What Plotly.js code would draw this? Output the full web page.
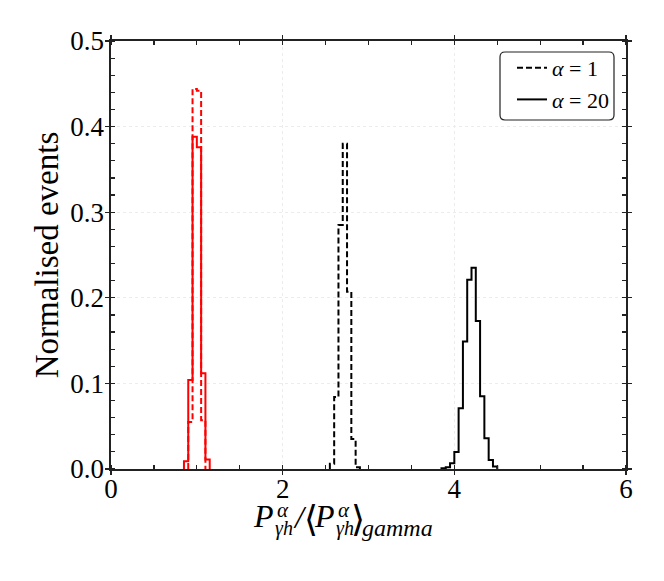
<!DOCTYPE html>
<html>
<head>
<meta charset="utf-8">
<script src="https://cdn.plot.ly/plotly-3.0.1.min.js"></script>
<style>html,body{margin:0;padding:0;background:#fff;}#chart{width:664px;height:581px;}</style>
</head>
<body>
<div id="chart"></div>
<script>
// ---- data ----
const gammaEdges20 = [0.85, 0.90, 0.95, 1.00, 1.05, 1.10, 1.15];
const gammaVals20  = [0.009, 0.104, 0.388, 0.376, 0.112, 0.011];
const gammaEdges1  = [0.90, 0.95, 1.00, 1.05, 1.10];
const gammaVals1   = [0.055, 0.444, 0.442, 0.057];
const alpha1Edges  = [2.55, 2.60, 2.65, 2.70, 2.75, 2.80, 2.85, 2.90];
const alpha1Vals   = [0.006, 0.084, 0.285, 0.380, 0.207, 0.035, 0.002];
const alpha20Edges = [3.85, 3.90, 3.95, 4.00, 4.05, 4.10, 4.15, 4.20, 4.25, 4.30, 4.35, 4.40, 4.45, 4.50];
const alpha20Vals  = [0.001, 0.002, 0.0066, 0.020, 0.071, 0.149, 0.221, 0.235, 0.173, 0.085, 0.036, 0.0106, 0.003];
const legendNames  = ['<i>α</i> = 1', '<i>α</i> = 20'];
const xTickVals    = [0, 2, 4, 6];

// step outline for a histogram
function stepXY(edges, vals) {
  const x = [edges[0]], y = [0];
  for (let i = 0; i < vals.length; i++) { x.push(edges[i]); y.push(vals[i]); }
  x.push(edges[edges.length - 1]); y.push(0);
  return {x, y};
}
function stepTrace(edges, vals, color, dash, name, show) {
  const s = stepXY(edges, vals);
  return {
    type: 'scatter', mode: 'lines', x: s.x, y: s.y,
    line: {shape: 'hv', color: color, width: 2, dash: dash},
    name: name || '', showlegend: !!show, hoverinfo: 'skip'
  };
}

const DASH = '6px,3px';
const traces = [
  stepTrace(alpha1Edges, alpha1Vals, '#000000', DASH, legendNames[0], true),
  stepTrace(alpha20Edges, alpha20Vals, '#000000', 'solid', legendNames[1], true),
  stepTrace(gammaEdges1, gammaVals1, '#ff0000', DASH, '', false),
  stepTrace(gammaEdges20, gammaVals20, '#ff0000', 'solid', '', false)
];

// plot-area pixel geometry (for placing the stacked-script x title)
const PL = 111, PR = 626, PT = 41, PB = 469;
const px2x = px => (px - PL) / (PR - PL);
const px2y = py => (PB - py) / (PB - PT);
const SERIF = 'Liberation Serif, DejaVu Serif, serif';
function piece(text, px, py, size) {
  return {
    xref: 'paper', yref: 'paper', x: px2x(px), y: px2y(py),
    xanchor: 'left', yanchor: 'middle', showarrow: false,
    text: text, borderpad: 0,
    font: {family: SERIF, size: size, color: '#000'}
  };
}
const titleAnn = [
  piece('<i>P</i>', 252, 516, 32),
  piece('<i>α</i>', 276, 510, 21),
  piece('<i>γh</i>', 274, 528, 20),
  piece('<i>/</i>', 292, 517, 32),
  piece('⟨', 303, 519, 36),
  piece('<i>P</i>', 313, 516, 32),
  piece('<i>α</i>', 337, 510, 21),
  piece('<i>γh</i>', 335, 528, 20),
  piece('⟩', 350, 519, 36),
  piece('<i>gamma</i>', 361, 528, 24)
];

// rounded legend frame (paper coords)
function roundRect(x0p, y0p, x1p, y1p, r) {
  const X = px2x, Y = px2y;
  return 'M' + X(x0p + r) + ',' + Y(y0p) +
    ' L' + X(x1p - r) + ',' + Y(y0p) +
    ' Q' + X(x1p) + ',' + Y(y0p) + ' ' + X(x1p) + ',' + Y(y0p + r) +
    ' L' + X(x1p) + ',' + Y(y1p - r) +
    ' Q' + X(x1p) + ',' + Y(y1p) + ' ' + X(x1p - r) + ',' + Y(y1p) +
    ' L' + X(x0p + r) + ',' + Y(y1p) +
    ' Q' + X(x0p) + ',' + Y(y1p) + ' ' + X(x0p) + ',' + Y(y1p - r) +
    ' L' + X(x0p) + ',' + Y(y0p + r) +
    ' Q' + X(x0p) + ',' + Y(y0p) + ' ' + X(x0p + r) + ',' + Y(y0p) + ' Z';
}

const axisCommon = {
  showline: true, linecolor: '#222', linewidth: 1.6, mirror: 'allticks',
  ticks: 'outside', ticklen: 4, tickwidth: 1.4, tickcolor: '#222',
  showgrid: true, gridcolor: '#ececec', griddash: 'dot', gridwidth: 1,
  zeroline: false,
  tickfont: {family: SERIF, size: 27, color: '#000'}
};

const layout = {
  width: 664, height: 581,
  margin: {l: PL, r: 664 - PR, t: PT, b: 581 - PB},
  paper_bgcolor: '#fff', plot_bgcolor: '#fff',
  showlegend: true,
  xaxis: Object.assign({}, axisCommon, {
    range: [0, 6], tickvals: xTickVals, ticklabelstandoff: -9,
    minor: {dtick: 0.5, ticks: 'inside', ticklen: 4, tickwidth: 1.2, tickcolor: '#222', showgrid: false},
    title: {text: ''}
  }),
  yaxis: Object.assign({}, axisCommon, {
    range: [0, 0.5], dtick: 0.1, tick0: 0, tickformat: '.1f', ticklabelstandoff: -4,
    minor: {dtick: 0.02, ticks: 'inside', ticklen: 4, tickwidth: 1.2, tickcolor: '#222', showgrid: false},
    title: {text: 'Normalised events', font: {family: SERIF, size: 33, color: '#000'}, standoff: 2}
  }),
  legend: {
    x: px2x(614), xanchor: 'right', y: px2y(47), yanchor: 'top',
    bgcolor: 'rgba(0,0,0,0)', borderwidth: 0,
    font: {family: SERIF, size: 22, color: '#000'},
    tracegroupgap: 0, itemwidth: 30
  },
  shapes: [{
    type: 'path', xref: 'paper', yref: 'paper', layer: 'above',
    path: roundRect(500, 52, 614, 120, 5),
    line: {color: '#222', width: 1.2}, fillcolor: 'rgba(0,0,0,0)'
  }],
  annotations: titleAnn
};

Plotly.newPlot('chart', traces, layout, {displayModeBar: false, staticPlot: true});
</script>
</body>
</html>
